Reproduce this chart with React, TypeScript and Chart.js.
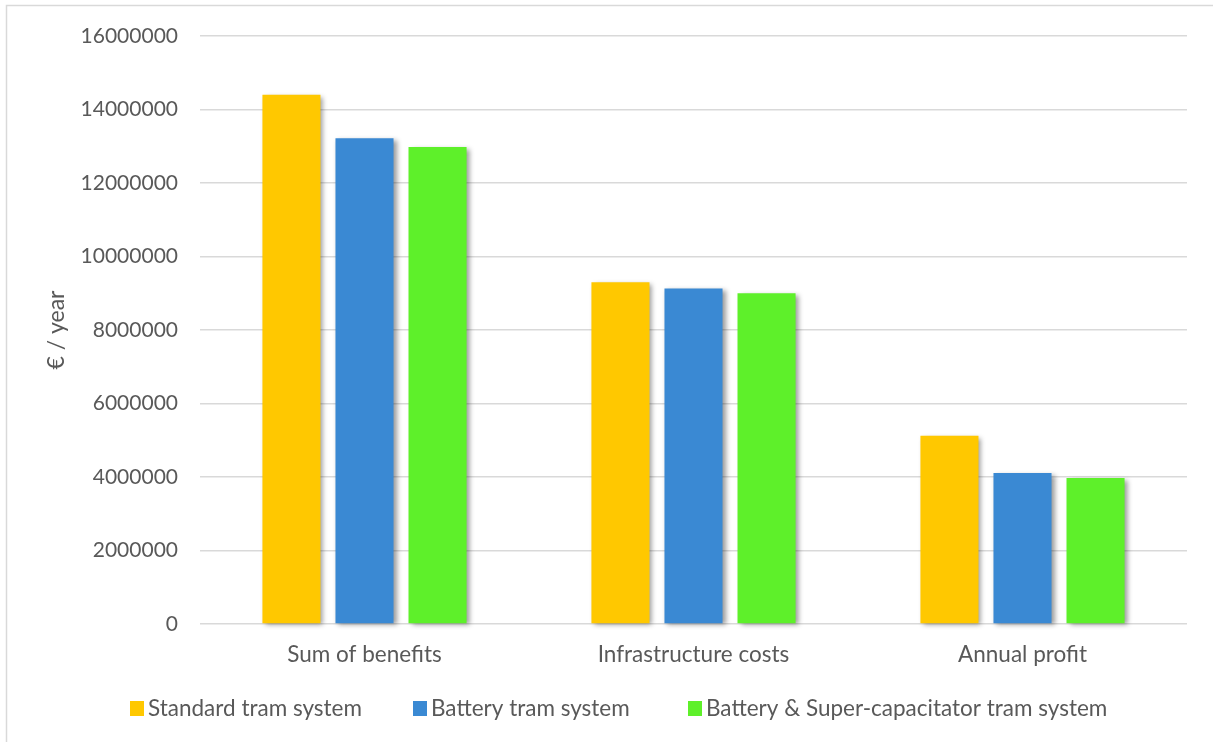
import React, { useEffect, useRef } from "react";
import { Chart, registerables } from "chart.js";

Chart.register(...registerables);

const categories = ["Sum of benefits", "Infrastructure costs", "Annual profit"];
const seriesNames = [
  "Standard tram system",
  "Battery tram system",
  "Battery & Super-capacitator tram system",
];
const standardValues = [14400000, 9300000, 5120000];
const batteryValues = [13220000, 9130000, 4110000];
const superCapValues = [12980000, 9000000, 3970000];
const seriesColors = ["#FFC800", "#3A89D3", "#5EF02A"];
const yTicks = [0, 2000000, 4000000, 6000000, 8000000, 10000000, 12000000, 14000000, 16000000];
const yTitle = "€ / year";

const FONT = "Lato, 'Liberation Sans', sans-serif";
const TEXT = "#595959";

const shadowPlugin = {
  id: "barShadow",
  beforeDatasetsDraw(chart: any) {
    const ctx = chart.ctx;
    ctx.save();
    ctx.shadowColor = "rgba(0,0,0,0.4)";
    ctx.shadowBlur = 5;
    ctx.shadowOffsetX = 3;
    ctx.shadowOffsetY = 2;
  },
  afterDatasetsDraw(chart: any) {
    chart.ctx.restore();
  },
};

const decorPlugin = {
  id: "decor",
  afterDraw(chart: any) {
    const ctx = chart.ctx;
    ctx.save();
    // outer frame (left and top edges visible)
    ctx.strokeStyle = "#d9d9d9";
    ctx.lineWidth = 1.5;
    ctx.beginPath();
    ctx.moveTo(6.5, chart.height);
    ctx.lineTo(6.5, 5.5);
    ctx.lineTo(chart.width, 5.5);
    ctx.stroke();
    // legend
    const ds = chart.data.datasets;
    const starts = [130, 413, 688];
    ctx.font = `22.5px ${FONT}`;
    ctx.textBaseline = "middle";
    ctx.textAlign = "left";
    ds.forEach((d: any, i: number) => {
      const x = starts[i];
      ctx.fillStyle = d.backgroundColor;
      ctx.fillRect(x, 701, 14, 15);
      ctx.fillStyle = TEXT;
      ctx.fillText(d.label, x + 18, 709);
    });
    ctx.restore();
  },
};

export default function App() {
  const ref = useRef<HTMLCanvasElement | null>(null);
  useEffect(() => {
    if (!ref.current) return;
    const seriesValues = [standardValues, batteryValues, superCapValues];
    const chart = new Chart(ref.current, {
      type: "bar",
      data: {
        labels: categories,
        datasets: seriesNames.map((name, i) => ({
          label: name,
          data: seriesValues[i],
          backgroundColor: seriesColors[i],
          borderWidth: 0,
          categoryPercentage: 0.666,
          barPercentage: 0.795,
          clip: false as any,
        })),
      },
      options: {
        animation: false,
        responsive: true,
        maintainAspectRatio: false,
        layout: { padding: { left: 43, top: 36, right: 26, bottom: 68 } },
        plugins: {
          legend: { display: false },
          tooltip: { enabled: false },
        },
        scales: {
          x: {
            grid: { display: false, drawTicks: false },
            border: { display: false },
            ticks: { color: TEXT, font: { family: FONT, size: 22.5 }, padding: 17 },
            afterFit(scale: any) {
              scale.height = 50;
            },
          },
          y: {
            min: 0,
            max: 16000000,
            afterBuildTicks(scale: any) {
              scale.ticks = yTicks.map((v) => ({ value: v }));
            },
            grid: { color: "#d9d9d9", lineWidth: 1.5, drawTicks: false },
            border: { display: false },
            ticks: {
              color: TEXT,
              font: { family: FONT, size: 21 },
              padding: 22,
              callback: (v: any) => String(v),
            },
            title: {
              display: true,
              text: yTitle,
              color: TEXT,
              font: { family: FONT, size: 23 },
              padding: 0,
            },
            afterFit(scale: any) {
              scale.width = 157;
            },
          },
        },
      },
      plugins: [shadowPlugin, decorPlugin],
    });
    return () => chart.destroy();
  }, []);
  return (
    <div style={{ position: "fixed", left: 0, top: 0, width: 1213, height: 742, background: "#fff" }}>
      <canvas ref={ref} />
    </div>
  );
}
